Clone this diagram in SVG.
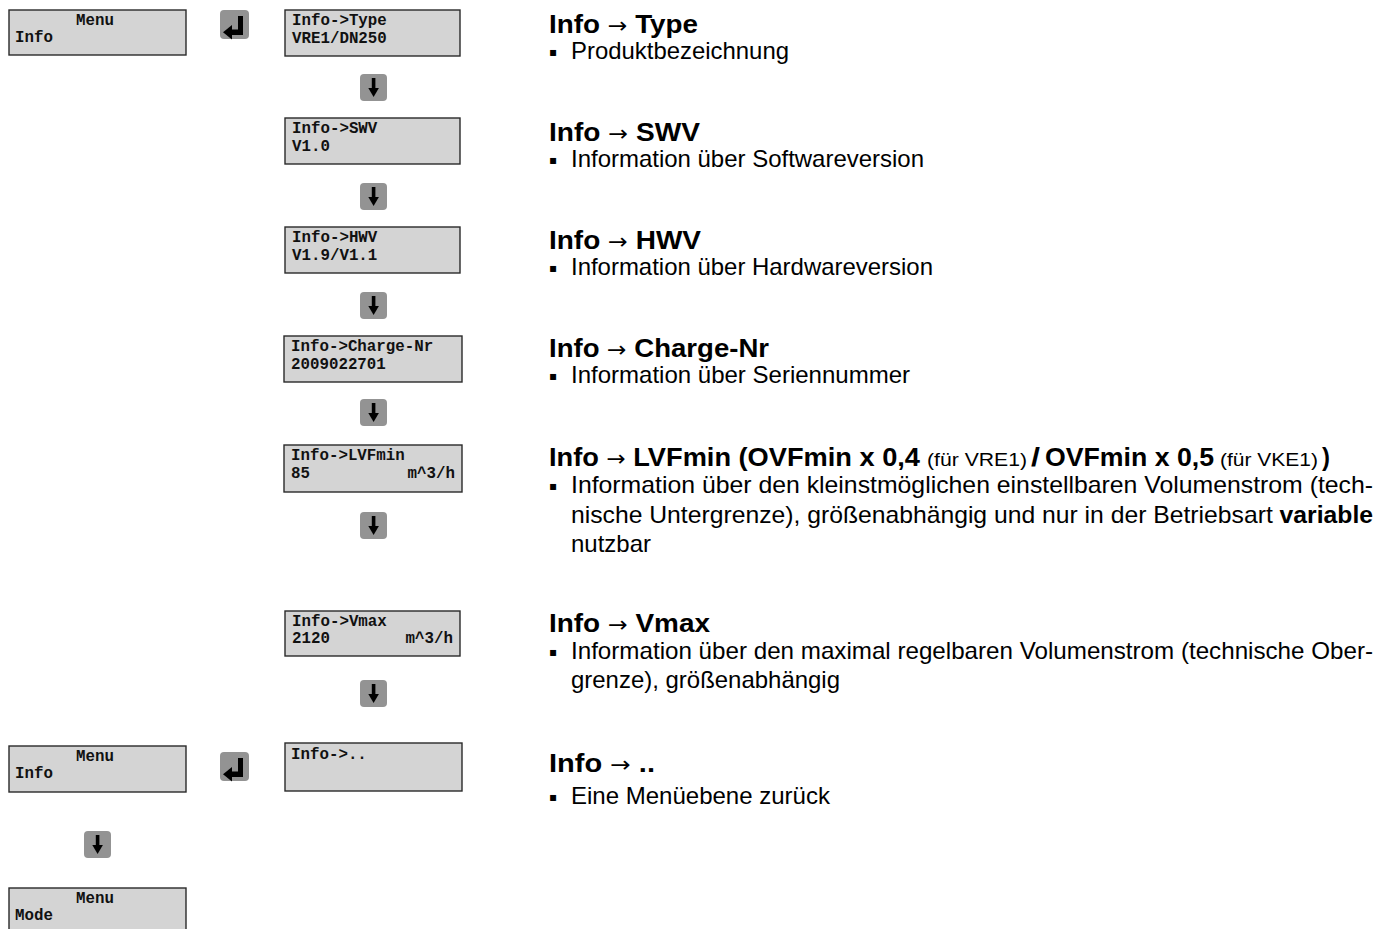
<svg xmlns="http://www.w3.org/2000/svg" width="1387" height="929" viewBox="0 0 1387 929">
<defs>
<style>
.box{fill:#d4d4d4;stroke:#2a2a2a;stroke-width:1.4}
.mono{font-family:"Liberation Mono","Courier New",monospace;font-weight:bold;font-size:15.8px;fill:#111}
.icon{fill:#939393}
.glyph{fill:#000}
.h{font-family:"Liberation Sans",Arial,sans-serif;font-weight:bold;font-size:26px;fill:#000}
.ar{font-family:"DejaVu Sans",sans-serif;font-weight:normal;font-size:22px}
.b{font-family:"Liberation Sans",Arial,sans-serif;font-size:24px;fill:#000}
.s{font-family:"Liberation Sans",Arial,sans-serif;font-size:18px;font-weight:normal;fill:#000}
.bul{font-family:"DejaVu Sans",sans-serif;font-size:12px;fill:#000}
</style>
<g id="enterIcon">
<rect class="icon" x="0" y="0" width="29" height="29" rx="4"/>
<rect class="glyph" x="18" y="6" width="5" height="19"/>
<rect class="glyph" x="10" y="19.5" width="13" height="5.5"/>
<polygon class="glyph" points="3,22.2 12,15 12,29.5"/>
</g>
<g id="downIcon">
<rect class="icon" x="0" y="0" width="27" height="27" rx="4"/>
<rect class="glyph" x="11.8" y="4" width="3.6" height="12"/>
<polygon class="glyph" points="8.3,14 18.9,14 13.6,23"/>
</g>
</defs>
<rect width="1387" height="929" fill="#fff"/>

<g id="connectors">
<use href="#enterIcon" x="220" y="10"/>
<use href="#downIcon" x="360" y="74"/>
<use href="#downIcon" x="360" y="183"/>
<use href="#downIcon" x="360" y="292"/>
<use href="#downIcon" x="360" y="399"/>
<use href="#downIcon" x="360" y="512"/>
<use href="#downIcon" x="360" y="680"/>
<use href="#enterIcon" x="220" y="752"/>
<use href="#downIcon" x="84" y="831"/>
</g>

<g id="menu-info-top">
<rect class="box" x="9" y="10" width="177" height="45"/>
<text class="mono" x="76" y="25">Menu</text>
<text class="mono" x="15" y="42">Info</text>
</g>
<g id="info-type">
<rect class="box" x="285" y="10" width="175" height="46"/>
<text class="mono" x="292" y="25">Info-&gt;Type</text>
<text class="mono" x="292" y="43">VRE1/DN250</text>
</g>
<g id="info-swv">
<rect class="box" x="285" y="118" width="175" height="46"/>
<text class="mono" x="292" y="133">Info-&gt;SWV</text>
<text class="mono" x="292" y="151">V1.0</text>
</g>
<g id="info-hwv">
<rect class="box" x="285" y="227" width="175" height="46"/>
<text class="mono" x="292" y="242">Info-&gt;HWV</text>
<text class="mono" x="292" y="260">V1.9/V1.1</text>
</g>
<g id="info-charge">
<rect class="box" x="284" y="336" width="178" height="46"/>
<text class="mono" x="291" y="351">Info-&gt;Charge-Nr</text>
<text class="mono" x="291" y="369">2009022701</text>
</g>
<g id="info-lvfmin">
<rect class="box" x="284" y="445" width="178" height="47"/>
<text class="mono" x="291" y="460">Info-&gt;LVFmin</text>
<text class="mono" x="291" y="478">85</text>
<text class="mono" x="455" y="478" text-anchor="end">m^3/h</text>
</g>
<g id="info-vmax">
<rect class="box" x="285" y="611" width="175" height="45"/>
<text class="mono" x="292" y="626">Info-&gt;Vmax</text>
<text class="mono" x="292" y="643">2120</text>
<text class="mono" x="453" y="643" text-anchor="end">m^3/h</text>
</g>
<g id="info-back">
<rect class="box" x="285" y="743" width="177" height="48"/>
<text class="mono" x="291" y="759">Info-&gt;..</text>
</g>
<g id="menu-info-bottom">
<rect class="box" x="9" y="746" width="177" height="46"/>
<text class="mono" x="76" y="761">Menu</text>
<text class="mono" x="15" y="778">Info</text>
</g>
<g id="menu-mode">
<rect class="box" x="9" y="888" width="177" height="48"/>
<text class="mono" x="76" y="903">Menu</text>
<text class="mono" x="15" y="920">Mode</text>
</g>

<g id="desc-type">
<text class="h" x="549" y="33" textLength="149" lengthAdjust="spacingAndGlyphs">Info <tspan class="ar">→</tspan> Type</text>
<text class="bul" x="549" y="56">▪</text>
<text class="b" x="571" y="59" textLength="218" lengthAdjust="spacingAndGlyphs">Produktbezeichnung</text>
</g>
<g id="desc-swv">
<text class="h" x="549" y="141" textLength="151" lengthAdjust="spacingAndGlyphs">Info <tspan class="ar">→</tspan> SWV</text>
<text class="bul" x="549" y="164">▪</text>
<text class="b" x="571" y="167" textLength="353" lengthAdjust="spacingAndGlyphs">Information über Softwareversion</text>
</g>
<g id="desc-hwv">
<text class="h" x="549" y="249" textLength="152" lengthAdjust="spacingAndGlyphs">Info <tspan class="ar">→</tspan> HWV</text>
<text class="bul" x="549" y="272">▪</text>
<text class="b" x="571" y="275" textLength="362" lengthAdjust="spacingAndGlyphs">Information über Hardwareversion</text>
</g>
<g id="desc-charge">
<text class="h" x="549" y="357" textLength="220" lengthAdjust="spacingAndGlyphs">Info <tspan class="ar">→</tspan> Charge-Nr</text>
<text class="bul" x="549" y="380">▪</text>
<text class="b" x="571" y="383" textLength="339" lengthAdjust="spacingAndGlyphs">Information über Seriennummer</text>
</g>
<g id="desc-lvfmin">
<text class="h" x="549" y="466" textLength="371" lengthAdjust="spacingAndGlyphs">Info <tspan class="ar">→</tspan> LVFmin (OVFmin x 0,4</text>
<text class="s" x="927" y="466" textLength="100" lengthAdjust="spacingAndGlyphs">(für VRE1)</text>
<text class="h" x="1031" y="466" textLength="9" lengthAdjust="spacingAndGlyphs">/</text>
<text class="h" x="1045" y="466" textLength="169" lengthAdjust="spacingAndGlyphs">OVFmin x 0,5</text>
<text class="s" x="1220" y="466" textLength="98" lengthAdjust="spacingAndGlyphs">(für VKE1)</text>
<text class="h" x="1322" y="466" textLength="8" lengthAdjust="spacingAndGlyphs">)</text>
<text class="bul" x="549" y="490">▪</text>
<text class="b" x="571" y="493" textLength="802" lengthAdjust="spacingAndGlyphs">Information über den kleinstmöglichen einstellbaren Volumenstrom (tech-</text>
<text class="b" x="571" y="523" textLength="802" lengthAdjust="spacingAndGlyphs">nische Untergrenze), größenabhängig und nur in der Betriebsart <tspan font-weight="bold">variable</tspan></text>
<text class="b" x="571" y="552" textLength="80" lengthAdjust="spacingAndGlyphs">nutzbar</text>
</g>
<g id="desc-vmax">
<text class="h" x="549" y="632" textLength="161" lengthAdjust="spacingAndGlyphs">Info <tspan class="ar">→</tspan> Vmax</text>
<text class="bul" x="549" y="656">▪</text>
<text class="b" x="571" y="659" textLength="802" lengthAdjust="spacingAndGlyphs">Information über den maximal regelbaren Volumenstrom (technische Ober-</text>
<text class="b" x="571" y="688" textLength="269" lengthAdjust="spacingAndGlyphs">grenze), größenabhängig</text>
</g>
<g id="desc-back">
<text class="h" x="549" y="772" textLength="106" lengthAdjust="spacingAndGlyphs">Info <tspan class="ar">→</tspan> ..</text>
<text class="bul" x="549" y="801">▪</text>
<text class="b" x="571" y="804" textLength="259" lengthAdjust="spacingAndGlyphs">Eine Menüebene zurück</text>
</g>
</svg>
